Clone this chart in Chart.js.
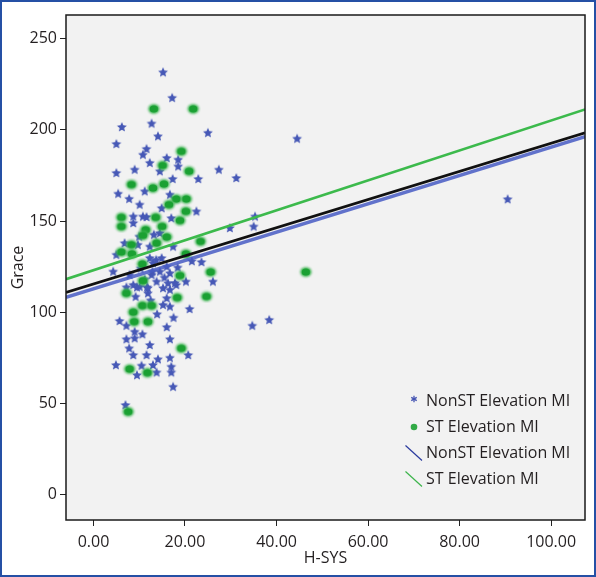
<!DOCTYPE html>
<html>
<head>
<meta charset="utf-8">
<script src="https://cdn.jsdelivr.net/npm/chart.js@4"></script>
<style>
  html, body { margin: 0; padding: 0; background: #fff; }
  #frame {
    position: relative;
    width: 596px;
    height: 577px;
    box-sizing: border-box;
    border: 2px solid #2550a5;
  }
  #holder { position: absolute; left: 0; top: 0; width: 592px; height: 573px; }
</style>
</head>
<body>
<div id="frame">
  <div id="holder"><canvas id="chart"></canvas></div>
</div>
<script>
// axis ranges and ticks
const xMin = -6, xMax = 107.4;
const yMin = -14, yMax = 263;
const xTicks = [0, 20, 40, 60, 80, 100];
const yTicks = [0, 50, 100, 150, 200, 250];

// NonST Elevation MI (stars)
const nonStX = [15.2, 17.2, 6.2, 12.7, 14.1, 5.0, 25.0, 11.6, 10.8, 12.3, 16.0, 18.5, 18.5, 14.5, 5.0, 9.0, 27.4, 31.2,
  5.4, 7.8, 11.2, 10.1, 14.9, 16.7, 22.5, 8.7, 10.8, 17.0, 8.7, 13.2, 14.5, 6.8, 9.7, 12.3, 17.4, 5.0, 29.8, 35.3, 35.0,
  44.5, 34.7, 38.4, 90.5, 12.3, 13.0, 16.0, 14.9, 23.6, 4.3, 7.9, 12.7, 14.5, 16.7, 13.8, 16.3, 18.1, 20.2, 26.1, 8.7,
  10.1, 11.9, 15.2, 11.9, 16.7, 16.0, 15.2, 16.7, 21.0, 13.9, 5.7, 7.2, 16.0, 9.0, 10.7, 7.2, 9.0, 16.7, 12.3, 7.8, 8.7,
  11.6, 20.7, 14.1, 16.7, 4.9, 10.5, 13.0, 17.0, 17.0, 9.5, 13.8, 17.4, 7.0, 7.2, 9.5, 11.7, 12.9, 17.8, 10.0, 13.7,
  11.2, 15.5, 10.3, 18.4, 9.2, 12.5, 17.5, 21.5, 17.3, 22.9, 11.6];
const nonStY = [231.6, 217.6, 201.6, 203.5, 196.5, 192.3, 198.4, 189.6, 186.4, 181.9, 184.6, 183.7, 180.0, 177.3, 176.4,
  178.2, 178.2, 173.6, 165, 162.2, 166.3, 159, 157.1, 164.5, 155.3, 152.5, 152.5, 151.6, 148.9, 142.5, 143.4, 137.9, 137,
  136, 136, 131.5, 146.2, 152.5, 147, 195.2, 92.6, 95.8, 162, 129.7, 126.9, 125, 129.7, 127.5, 122.3, 120.5, 120.5, 122.3,
  121.4, 116.8, 115.9, 115, 116.8, 116.8, 115, 114, 113.2, 113.2, 110.4, 112.3, 107.7, 104, 103.1, 101.8, 98.9, 95.2,
  92.6, 91.8, 89.3, 87.9, 85.2, 85.7, 85.2, 82, 80.2, 76.5, 76.5, 76.5, 74.2, 75, 71, 70.7, 71, 70.1, 67, 65.5, 67, 59.1,
  49.1, 113.7, 113.7, 113.7, 122.3, 116, 141.5, 128.7, 118, 119, 124, 124.5, 108.5, 106.5, 97, 128, 173.1, 173.1, 152.2];

// ST Elevation MI (circles)
const stX = [13.2, 21.8, 19.2, 15.1, 20.9, 8.3, 13.0, 15.4, 18.1, 20.3, 16.5, 20.2, 18.9, 6.1, 6.1, 13.6, 15.0, 11.4,
  10.8, 16.0, 13.8, 8.3, 6.1, 8.4, 23.4, 20.2, 10.7, 25.6, 18.9, 10.8, 7.2, 18.3, 24.7, 8.7, 10.7, 12.7, 8.9, 11.9, 19.2,
  7.9, 11.8, 7.6, 46.4];
const stY = [211.5, 211.5, 188.2, 180.5, 177.3, 170, 168.1, 170.3, 162.1, 162.1, 159.0, 155.3, 150.3, 152.0, 147.0,
  152.0, 147.0, 145.2, 142.1, 141.2, 137.9, 137.0, 133.0, 132.0, 138.8, 132.0, 126.4, 122.0, 120.1, 117.2, 110.4, 108,
  108.6, 100, 103.6, 103.6, 94.8, 94.8, 80.2, 68.8, 66.8, 45.4, 122];

// fit lines, end points read at the plot edges
const fitNonSt = [[xMin, 108.2], [xMax, 196.2]];
const fitSt = [[xMin, 118.1], [xMax, 211.2]];
const fitTotal = [[xMin, 110.8], [xMax, 198.4]];

const textColor = "#231f20";
const fontFamily = '"Open Sans", "DejaVu Sans", sans-serif';

function toPoints(xs, ys) {
  return xs.map((x, i) => ({ x: x, y: ys[i] }));
}

function lineData(pairs) {
  return pairs.map((p) => ({ x: p[0], y: p[1] }));
}

function makeStar() {
  const c = document.createElement("canvas");
  c.width = 14; c.height = 14;
  const g = c.getContext("2d");
  g.filter = "blur(0.6px)";
  g.fillStyle = "rgb(70, 88, 182)";
  g.beginPath();
  for (let i = 0; i < 10; i++) {
    const r = i % 2 === 0 ? 5.2 : 2.4;
    const a = -Math.PI / 2 + (i * Math.PI) / 5;
    const px = 7 + r * Math.cos(a), py = 7.3 + r * Math.sin(a);
    if (i === 0) g.moveTo(px, py); else g.lineTo(px, py);
  }
  g.closePath();
  g.fill();
  return c;
}

function makeDot() {
  const c = document.createElement("canvas");
  c.width = 16; c.height = 14;
  const g = c.getContext("2d");
  g.filter = "blur(0.8px)";
  g.fillStyle = "rgb(60, 180, 80)";
  g.beginPath();
  g.ellipse(8, 7, 5.6, 4.8, 0, 0, Math.PI * 2);
  g.fill();
  g.filter = "none";
  g.fillStyle = "rgb(26, 160, 50)";
  g.beginPath();
  g.ellipse(8, 7, 4.2, 3.6, 0, 0, Math.PI * 2);
  g.fill();
  return c;
}

const plotFrame = {
  id: "plotFrame",
  beforeDatasetsDraw(chart) {
    const { ctx, chartArea: a } = chart;
    ctx.save();
    ctx.fillStyle = "#f2f2f2";
    ctx.fillRect(a.left, a.top, a.right - a.left, a.bottom - a.top);
    ctx.restore();
  },
  afterDraw(chart) {
    const { ctx, chartArea: a } = chart;
    ctx.save();
    ctx.strokeStyle = "#1a1a1a";
    ctx.lineWidth = 1.5;
    ctx.strokeRect(a.left, a.top, a.right - a.left, a.bottom - a.top);

    // legend in lower right of the plot: markers first, then fit lines
    const sets = chart.data.datasets;
    const items = ["star", "dot", "line"].flatMap((k) => sets.filter((d) => d.legendKind === k));
    const tx = a.right - 159;
    let ty = a.bottom - 119;
    ctx.font = "16px " + fontFamily;
    ctx.textBaseline = "middle";
    items.forEach((d) => {
      const mx = tx - 12;
      if (d.legendKind === "star") {
        ctx.strokeStyle = "rgb(68, 84, 178)";
        ctx.lineWidth = 1.3;
        for (let k = 0; k < 3; k++) {
          const ang = Math.PI / 2 + (k * Math.PI) / 3;
          ctx.beginPath();
          ctx.moveTo(mx - 3.2 * Math.cos(ang), ty - 2 - 3.2 * Math.sin(ang));
          ctx.lineTo(mx + 3.2 * Math.cos(ang), ty - 2 + 3.2 * Math.sin(ang));
          ctx.stroke();
        }
      } else if (d.legendKind === "dot") {
        ctx.fillStyle = "rgb(50, 170, 70)";
        ctx.beginPath();
        ctx.arc(mx, ty, 3.3, 0, Math.PI * 2);
        ctx.fill();
      } else {
        ctx.strokeStyle = d.legendColor;
        ctx.lineWidth = 1.2;
        ctx.beginPath();
        ctx.moveTo(tx - 20.5, ty - 7.5);
        ctx.lineTo(tx - 4, ty + 7.5);
        ctx.stroke();
      }
      ctx.fillStyle = textColor;
      ctx.fillText(d.label, tx, ty);
      ty += 26;
    });
    ctx.restore();
  },
};

new Chart(document.getElementById("chart"), {
  type: "scatter",
  data: {
    datasets: [
      {
        type: "line",
        label: "NonST Elevation MI",
        legendKind: "line",
        legendColor: "#2a3a9e",
        data: lineData(fitNonSt),
        borderColor: "rgba(72, 92, 196, 0.85)",
        borderWidth: 3.5,
        pointRadius: 0,
        order: 2,
      },
      {
        type: "line",
        label: "Total",
        data: lineData(fitTotal),
        borderColor: "#111111",
        borderWidth: 2.6,
        pointRadius: 0,
        order: 1,
      },
      {
        type: "line",
        label: "ST Elevation MI",
        legendKind: "line",
        legendColor: "#3cb44b",
        data: lineData(fitSt),
        borderColor: "#3cba4c",
        borderWidth: 2.6,
        pointRadius: 0,
        order: 0,
      },
      {
        label: "NonST Elevation MI",
        legendKind: "star",
        data: toPoints(nonStX, nonStY),
        pointStyle: makeStar(),
        order: 4,
      },
      {
        label: "ST Elevation MI",
        legendKind: "dot",
        data: toPoints(stX, stY),
        pointStyle: makeDot(),
        order: 3,
      },
    ],
  },
  options: {
    responsive: true,
    maintainAspectRatio: false,
    animation: false,
    layout: { padding: { top: 13, right: 9, left: 0, bottom: 0 } },
    plugins: {
      legend: { display: false },
      tooltip: { enabled: false },
    },
    scales: {
      x: {
        type: "linear",
        min: xMin,
        max: xMax,
        afterBuildTicks: (s) => { s.ticks = xTicks.map((v) => ({ value: v })); },
        afterFit: (s) => { s.height = 55; },
        ticks: {
          color: textColor,
          font: { family: fontFamily, size: 16 },
          padding: 7,
          maxRotation: 0,
          callback: (v) => Number(v).toFixed(2),
        },
        grid: { drawOnChartArea: false, drawTicks: true, tickLength: 6, color: "#222" },
        border: { display: false },
        title: {
          display: true,
          text: "H-SYS",
          color: textColor,
          font: { family: fontFamily, size: 16 },
          padding: { top: 0, bottom: 7 },
        },
      },
      y: {
        type: "linear",
        min: yMin,
        max: yMax,
        afterBuildTicks: (s) => { s.ticks = yTicks.map((v) => ({ value: v })); },
        afterFit: (s) => { s.width = 64; },
        ticks: {
          color: textColor,
          font: { family: fontFamily, size: 16 },
          padding: 3,
        },
        grid: { drawOnChartArea: false, drawTicks: true, tickLength: 6, color: "#222" },
        border: { display: false },
        title: {
          display: true,
          text: "Grace",
          color: textColor,
          font: { family: fontFamily, size: 16 },
          padding: { top: 7, bottom: 0 },
        },
      },
    },
  },
  plugins: [plotFrame],
});
</script>
</body>
</html>
